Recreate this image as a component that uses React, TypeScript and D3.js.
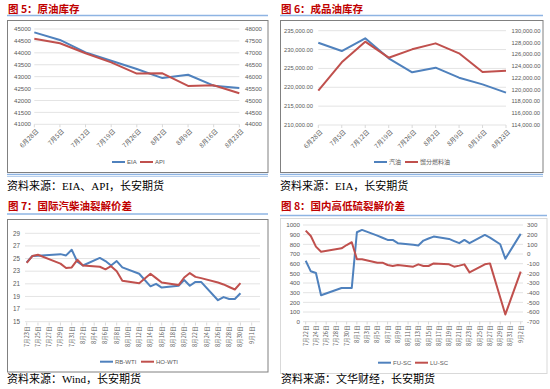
import * as d3 from "d3";

// ---- 图5 / 图6 weekly inventories ----
const weekLabels = ["6月28日", "7月5日", "7月12日", "7月19日", "7月26日", "8月2日", "8月9日", "8月16日", "8月23日"];
const crudeEia = [44860, 44540, 44020, 43670, 43320, 42940, 43080, 42620, 42520];
const crudeApi = [47590, 47400, 46980, 46600, 46130, 46140, 45610, 45640, 45300];
const crudeLeftTicks = [41000, 41500, 42000, 42500, 43000, 43500, 44000, 44500, 45000];
const crudeRightTicks = [44000, 44500, 45000, 45500, 46000, 46500, 47000, 47500, 48000];

const gasoline = [231820, 229610, 232970, 227670, 223960, 225190, 222540, 220780, 218570];
const distillate = [119830, 124630, 128140, 125420, 126840, 127850, 126160, 123000, 123220];
const productLeftTicks = [210000, 215000, 220000, 225000, 230000, 235000];
const productRightTicks = [114000, 116000, 118000, 120000, 122000, 124000, 126000, 128000, 130000];

// ---- 图7 crack spreads ----
const crackDates = ["7月23日", "7月24日", "7月25日", "7月29日", "7月30日", "7月31日", "8月1日", "8月2日", "8月5日", "8月6日", "8月7日", "8月8日", "8月9日", "8月12日", "8月14日", "8月15日", "8月16日", "8月19日", "8月20日", "8月21日", "8月22日", "8月23日", "8月26日", "8月27日", "8月28日", "8月29日", "8月30日"];
const rbWti = [24.4, 25.4, 25.45, 25.7, 25.5, 26.4, 24.5, 23.9, 25.1, 24.6, 23.9, 24.6, 23.6, 22.6, 20.6, 21.0, 20.4, 20.7, 21.6, 20.7, 21.3, 21.3, 18.4, 18.9, 18.6, 18.6, 19.5];
const hoWti = [24.3, 25.4, 25.6, 24.2, 23.5, 23.6, 24.8, 23.9, 23.7, 23.3, 23.8, 23.0, 21.5, 21.1, 22.6, 21.9, 21.2, 20.8, 22.0, 22.7, 22.1, 21.9, 21.2, 20.9, 20.5, 20.1, 21.1];
const crackTicks = [15, 17, 19, 21, 23, 25, 27, 29];
const crackTickDates = ["7月23日", "7月25日", "7月27日", "7月29日", "7月31日", "8月2日", "8月4日", "8月6日", "8月8日", "8月10日", "8月12日", "8月14日", "8月16日", "8月18日", "8月20日", "8月22日", "8月24日", "8月26日", "8月28日", "8月30日", "9月1日"];

// ---- 图8 high/low sulphur ----
const sulfurDates = ["7月22日", "7月23日", "7月24日", "7月25日", "7月29日", "7月30日", "7月31日", "8月1日", "8月2日", "8月5日", "8月6日", "8月7日", "8月8日", "8月9日", "8月12日", "8月13日", "8月14日", "8月15日", "8月16日", "8月19日", "8月20日", "8月21日", "8月22日", "8月23日", "8月26日", "8月27日", "8月29日", "8月30日", "9月2日"];
const fuSc = [630, 521, 503, 274, 349, 349, 349, 925, 949, 890, 868, 846, 846, 812, 795, 788, 839, 860, 880, 856, 834, 812, 846, 812, 897, 870, 801, 651, 908];
const luSc = [242, 186, 76, 24, 59, 93, 122, -53, -55, -90, -90, -114, -124, -114, -131, -107, -124, -124, -97, -107, -131, -120, -107, -190, -107, -97, -450, -625, -183];
const sulfurLeftTicks = [0, 100, 200, 300, 400, 500, 600, 700, 800, 900, 1000];
const sulfurRightTicks = [-700, -600, -500, -400, -300, -200, -100, 0, 100, 200, 300];
const sulfurTickDates = ["7月22日", "7月24日", "7月26日", "7月28日", "7月30日", "8月1日", "8月3日", "8月5日", "8月7日", "8月9日", "8月11日", "8月13日", "8月15日", "8月17日", "8月19日", "8月21日", "8月23日", "8月25日", "8月27日", "8月29日", "8月31日", "9月2日"];

const BLUE = "#4f81bd";
const RED = "#c0504d";
const GRID = "#d9d9d9";
const TXT = "#595959";
const NUM_FONT = "'Liberation Sans', 'Noto Sans CJK SC', sans-serif";
const CJK_FONT = "'Noto Sans CJK SC', sans-serif";
const SRC_FONT = "'Liberation Serif', 'Noto Sans CJK SC', serif";

const parseDay = d3.timeParse("%Y-%m月%d日");
const toDate = (s: string) => parseDay("2021-" + s) as Date;

function Header({ x, w, y, lineY, text }: { x: number; w: number; y: number; lineY: number; text: string }) {
  return (
    <g>
      <text x={x + 1} y={y} fontFamily={CJK_FONT} fontWeight="bold" fontSize={10.5} fill="#c00000">
        {text}
      </text>
      <line x1={x} x2={x + w} y1={lineY} y2={lineY} stroke="#8eb4e3" strokeWidth={1.5} />
    </g>
  );
}

function Legend({ y, items }: { y: number; items: { x: number; label: string; color: string }[] }) {
  return (
    <g>
      {items.map((it) => (
        <g key={it.label}>
          <line x1={it.x} x2={it.x + 13} y1={y} y2={y} stroke={it.color} strokeWidth={2} />
          <text x={it.x + 15} y={y} dy="0.35em" fontSize={6} fontFamily={NUM_FONT} fill={TXT}>
            {it.label}
          </text>
        </g>
      ))}
    </g>
  );
}

function YAxisText({ ticks, scale, x, anchor, fmt, size }: any) {
  return (
    <g>
      {ticks.map((t: number) => (
        <text key={t} x={x} y={scale(t)} dy="0.35em" textAnchor={anchor} fontSize={size} fontFamily={NUM_FONT} fill={TXT}>
          {fmt(t)}
        </text>
      ))}
    </g>
  );
}

function Grid({ ticks, scale, x1, x2 }: any) {
  return (
    <g>
      {ticks.map((t: number) => (
        <line key={t} x1={x1} x2={x2} y1={scale(t)} y2={scale(t)} stroke={GRID} strokeWidth={0.75} />
      ))}
    </g>
  );
}

function WeeklyChart(props: {
  range: [number, number];
  yRange: [number, number];
  left: number[];
  right: number[];
  leftTicks: number[];
  rightTicks: number[];
  leftX: number;
  rightX: number;
  fmt: (n: number) => string;
  size: number;
}) {
  const { range, yRange, left, right, leftTicks, rightTicks } = props;
  const x = d3.scalePoint<string>().domain(weekLabels).range(range);
  const yL = d3.scaleLinear().domain(d3.extent(leftTicks) as [number, number]).range(yRange);
  const yR = d3.scaleLinear().domain(d3.extent(rightTicks) as [number, number]).range(yRange);
  const lineL = d3.line<number>().x((_, i) => x(weekLabels[i])!).y((d) => yL(d));
  const lineR = d3.line<number>().x((_, i) => x(weekLabels[i])!).y((d) => yR(d));
  const base = yRange[0];
  return (
    <g>
      <Grid ticks={leftTicks} scale={yL} x1={range[0]} x2={range[1]} />
      {weekLabels.map((c) => (
        <line key={c} x1={x(c)} x2={x(c)} y1={base} y2={base + 3} stroke={GRID} />
      ))}
      <YAxisText ticks={leftTicks} scale={yL} x={props.leftX} anchor="end" fmt={props.fmt} size={props.size} />
      <YAxisText ticks={rightTicks} scale={yR} x={props.rightX} anchor="start" fmt={props.fmt} size={props.size} />
      <path d={lineL(left)!} fill="none" stroke={BLUE} strokeWidth={2} strokeLinejoin="round" />
      <path d={lineR(right)!} fill="none" stroke={RED} strokeWidth={2} strokeLinejoin="round" />
      {weekLabels.map((c) => (
        <text
          key={c}
          transform={`translate(${x(c)! + 3},${base + 6}) rotate(-45)`}
          textAnchor="end"
          dy="0.35em"
          fontSize={6.3}
          fontFamily={CJK_FONT}
          fill={TXT}
        >
          {c}
        </text>
      ))}
    </g>
  );
}

function DailyAxisLabels({ ticks, x, y }: { ticks: string[]; x: d3.ScaleTime<number, number>; y: number }) {
  return (
    <g>
      {ticks.map((t) => (
        <g key={t}>
          <line x1={x(toDate(t))} x2={x(toDate(t))} y1={y - 4} y2={y - 1} stroke={GRID} />
          <text
            transform={`translate(${x(toDate(t))},${y}) rotate(-90)`}
            textAnchor="end"
            dy="0.35em"
            fontSize={5.6}
            fontFamily={CJK_FONT}
            fill={TXT}
          >
            {t}
          </text>
        </g>
      ))}
    </g>
  );
}

function CrackChart() {
  const x = d3.scaleTime().domain([toDate("7月23日"), toDate("9月1日")]).range([26.7, 251.7]);
  const y = d3.scaleLinear().domain([15, 29]).range([321.7, 233.3]);
  const mk = (vals: number[]) =>
    d3.line<number>().x((_, i) => x(toDate(crackDates[i]))).y((d) => y(d))(vals)!;
  return (
    <g>
      <Grid ticks={crackTicks} scale={y} x1={25} x2={260} />
      <YAxisText ticks={crackTicks} scale={y} x={20} anchor="end" fmt={(n: number) => String(n)} size={6.3} />
      <path d={mk(rbWti)} fill="none" stroke={BLUE} strokeWidth={2} strokeLinejoin="round" />
      <path d={mk(hoWti)} fill="none" stroke={RED} strokeWidth={2} strokeLinejoin="round" />
      <DailyAxisLabels ticks={crackTickDates} x={x} y={326.5} />
    </g>
  );
}

function SulfurChart() {
  const x = d3.scaleTime().domain([toDate("7月22日"), toDate("9月2日")]).range([305.7, 520.7]);
  const yL = d3.scaleLinear().domain([0, 1000]).range([321.7, 225]);
  const yR = d3.scaleLinear().domain([-700, 300]).range([321.7, 225]);
  const mk = (vals: number[], y: d3.ScaleLinear<number, number>) =>
    d3.line<number>().x((_, i) => x(toDate(sulfurDates[i]))).y((d) => y(d))(vals)!;
  return (
    <g>
      <Grid ticks={sulfurLeftTicks} scale={yL} x1={303} x2={523} />
      <YAxisText ticks={sulfurLeftTicks} scale={yL} x={300} anchor="end" fmt={(n: number) => String(n)} size={6.2} />
      <YAxisText ticks={sulfurRightTicks} scale={yR} x={527} anchor="start" fmt={(n: number) => String(n)} size={6.2} />
      <path d={mk(fuSc, yL)} fill="none" stroke={BLUE} strokeWidth={2} strokeLinejoin="round" />
      <path d={mk(luSc, yR)} fill="none" stroke={RED} strokeWidth={2} strokeLinejoin="round" />
      <DailyAxisLabels ticks={sulfurTickDates} x={x} y={325.5} />
    </g>
  );
}

export default function App() {
  return (
    <div style={{ position: "absolute", left: 0, top: 0 }}>
      <svg width={550} height={389} style={{ display: "block", background: "#fff" }}>
        {/* 图5 */}
        <Header x={7} w={261} y={12.5} lineY={15.5} text="图 5：原油库存" />
        <rect x={7.5} y={20.5} width={260.5} height={152} fill="none" stroke="#808080" />
        <WeeklyChart
          range={[34.3, 239.3]}
          yRange={[124.3, 29]}
          left={crudeEia}
          right={crudeApi}
          leftTicks={crudeLeftTicks}
          rightTicks={crudeRightTicks}
          leftX={31}
          rightX={245}
          fmt={(n) => String(n)}
          size={6.1}
        />
        <Legend y={162} items={[{ x: 112, label: "EIA", color: BLUE }, { x: 140, label: "API", color: RED }]} />
        <line x1={7} x2={268} y1={174.3} y2={174.3} stroke="#8eb4e3" strokeWidth={1.2} />
        <line x1={7} x2={268} y1={176.3} y2={176.3} stroke="#8eb4e3" strokeWidth={0.8} />
        <text x={7} y={190} fontSize={11} fontFamily={SRC_FONT}>资料来源：EIA、API，长安期货</text>

        {/* 图6 */}
        <Header x={280} w={263} y={12.5} lineY={15.5} text="图 6：成品油库存" />
        <rect x={280.5} y={20.5} width={262.5} height={152} fill="none" stroke="#808080" />
        <WeeklyChart
          range={[318.3, 506]}
          yRange={[125, 30.7]}
          left={gasoline}
          right={distillate}
          leftTicks={productLeftTicks}
          rightTicks={productRightTicks}
          leftX={313}
          rightX={511.5}
          fmt={d3.format(",.2f")}
          size={5.8}
        />
        <Legend y={162} items={[{ x: 374, label: "汽油", color: BLUE }, { x: 405, label: "馏分燃料油", color: RED }]} />
        <line x1={280} x2={543} y1={174.3} y2={174.3} stroke="#8eb4e3" strokeWidth={1.2} />
        <line x1={280} x2={543} y1={176.3} y2={176.3} stroke="#8eb4e3" strokeWidth={0.8} />
        <text x={280} y={190} fontSize={11} fontFamily={SRC_FONT}>资料来源：EIA，长安期货</text>

        {/* 图7 */}
        <Header x={7} w={261} y={210} lineY={214} text="图 7：国际汽柴油裂解价差" />
        <rect x={7.5} y={219.5} width={260.5} height={152.5} fill="none" stroke="#808080" />
        <CrackChart />
        <Legend y={361.7} items={[{ x: 100, label: "RB-WTI", color: BLUE }, { x: 141, label: "HO-WTI", color: RED }]} />
        <text x={7} y={382.5} fontSize={11} fontFamily={SRC_FONT}>资料来源：Wind，长安期货</text>

        {/* 图8 */}
        <Header x={280} w={267} y={210} lineY={215.5} text="图 8：国内高低硫裂解价差" />
        <rect x={280.5} y={218.5} width={266.5} height={155} fill="none" stroke="#d9d9d9" />
        <SulfurChart />
        <Legend y={362.7} items={[{ x: 378, label: "FU-SC", color: BLUE }, { x: 415, label: "LU-SC", color: RED }]} />
        <text x={281} y={382.5} fontSize={11} fontFamily={SRC_FONT}>资料来源：文华财经，长安期货</text>
      </svg>
    </div>
  );
}
